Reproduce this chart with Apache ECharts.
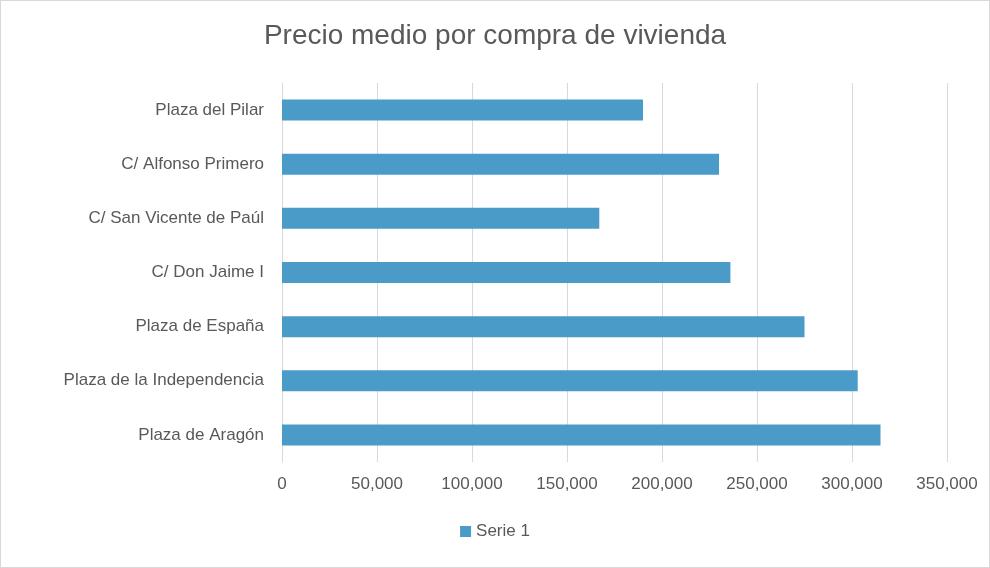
<!DOCTYPE html>
<html>
<head>
<meta charset="utf-8">
<script src="https://cdn.jsdelivr.net/npm/echarts@6/dist/echarts.min.js"></script>
<style>
  html, body { margin: 0; padding: 0; background: #fff; }
  #chart { width: 988px; height: 566px; border: 1px solid #d9d9d9; }
</style>
</head>
<body>
<div id="chart"></div>
<script>
// categories listed bottom to top (category axis starts at the bottom)
const categories = [
  'Plaza de Aragón',
  'Plaza de la Independencia',
  'Plaza de España',
  'C/ Don Jaime I',
  'C/ San Vicente de Paúl',
  'C/ Alfonso Primero',
  'Plaza del Pilar'
];
const serie1 = [315000, 303000, 275000, 236000, 167000, 230000, 190000];

const chart = echarts.init(document.getElementById('chart'));
chart.setOption({
  animation: false,
  textStyle: { fontFamily: 'Liberation Sans, Arial, sans-serif' },
  title: {
    text: 'Precio medio por compra de vivienda',
    left: 'center',
    top: 16,
    textStyle: { fontSize: 28, fontWeight: 'normal', color: '#595959' }
  },
  legend: {
    data: ['Serie 1'],
    bottom: 22,
    icon: 'rect',
    itemWidth: 11,
    itemHeight: 11,
    textStyle: { fontSize: 17, color: '#595959' }
  },
  grid: { left: 281, right: 42, top: 82, bottom: 105 },
  xAxis: {
    type: 'value',
    min: 0,
    max: 350000,
    interval: 50000,
    axisLine: { show: false },
    axisTick: { show: false },
    axisLabel: { fontSize: 17, color: '#595959', margin: 14 },
    splitLine: { lineStyle: { color: '#d9d9d9' } }
  },
  yAxis: {
    type: 'category',
    data: categories,
    axisLine: { lineStyle: { color: '#d9d9d9' } },
    axisTick: { show: false },
    axisLabel: { fontSize: 17, color: '#595959', margin: 18 }
  },
  series: [{
    name: 'Serie 1',
    type: 'bar',
    data: serie1,
    barWidth: 21,
    itemStyle: { color: '#4a9bc8' }
  }]
});
</script>
</body>
</html>
